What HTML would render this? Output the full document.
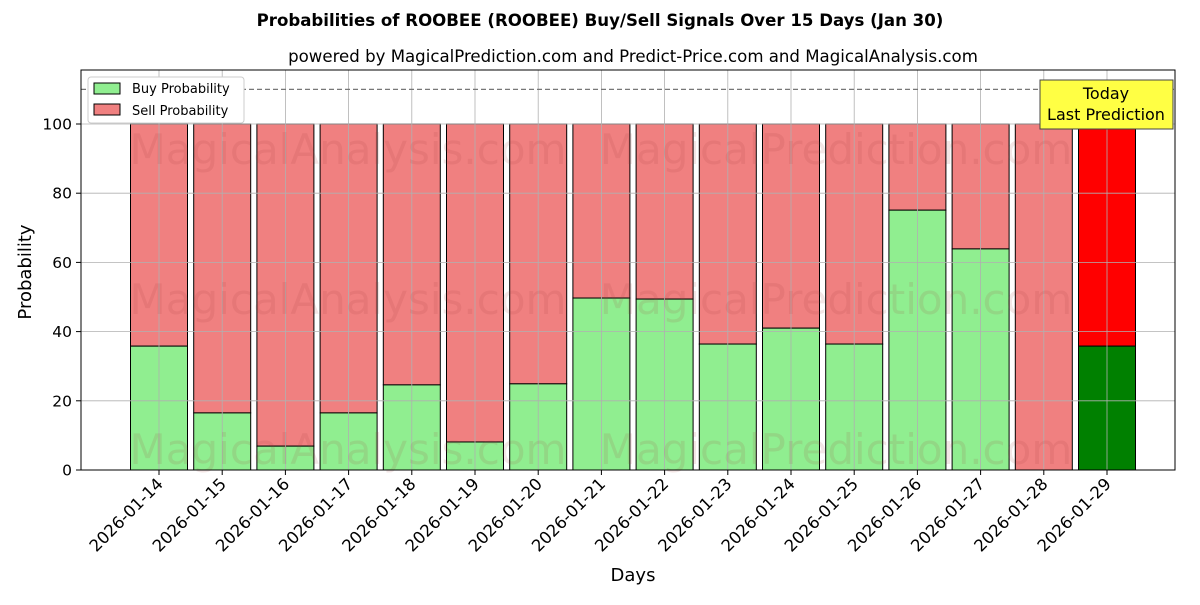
<!DOCTYPE html>
<html><head><meta charset="utf-8"><style>
body{margin:0;background:#fff;font-family:"Liberation Sans","DejaVu Sans",sans-serif;}
svg text{font-family:"DejaVu Sans","Liberation Sans",sans-serif;}
</style></head><body>
<svg id="chart" width="1200" height="600" xmlns="http://www.w3.org/2000/svg">
<text x="600" y="26" text-anchor="middle" font-size="16.6" font-weight="bold">Probabilities of ROOBEE (ROOBEE) Buy/Sell Signals Over 15 Days (Jan 30)</text>
<text x="633" y="62" text-anchor="middle" font-size="16.6">powered by MagicalPrediction.com and Predict-Price.com and MagicalAnalysis.com</text>
<g id="plot"></g>
</svg>
<script>
const days=["2026-01-14","2026-01-15","2026-01-16","2026-01-17","2026-01-18","2026-01-19","2026-01-20","2026-01-21","2026-01-22","2026-01-23","2026-01-24","2026-01-25","2026-01-26","2026-01-27","2026-01-28","2026-01-29"];
const buyValues=[35.8,16.5,6.9,16.5,24.6,8.1,24.9,49.7,49.4,36.4,41.0,36.4,75.1,63.9,0,35.8];
const yTicks=[0,20,40,60,80,100];
const L=81,R=1175,T=70,B=470;
const yS=v=>B-v*3.46;
const xS=i=>159+i*63.2;
const bw=57;
const NS="http://www.w3.org/2000/svg";
const g=document.getElementById('plot');
function mk(t,a,p){const e=document.createElementNS(NS,t);for(const k in a)e.setAttribute(k,a[k]);(p||g).appendChild(e);return e;}
days.forEach((d,i)=>{
const last=i===days.length-1;
const b=buyValues[i];
const s=mk('rect',{x:xS(i)-bw/2,y:yS(100),width:bw,height:yS(b)-yS(100),fill:last?'#ff0000':'#f08080',stroke:'#000','stroke-width':1});


const r=mk('rect',{x:xS(i)-bw/2,y:yS(b),width:bw,height:B-yS(b),fill:last?'#008000':'#90ee90',stroke:'#000','stroke-width':1});


mk('line',{x1:xS(i),x2:xS(i),y1:B,y2:B+5,stroke:'#000'});
mk('line',{x1:xS(i),x2:xS(i),y1:T,y2:B,stroke:'#b0b0b0','stroke-width':0.8});
const lb=mk('text',{x:xS(i)+5,y:B+15,'text-anchor':'end','font-size':16.5,transform:`rotate(-45 ${xS(i)+5} ${B+15})`});
lb.textContent=d;


});
yTicks.forEach(v=>{
mk('line',{x1:L,x2:R,y1:yS(v),y2:yS(v),stroke:'#b0b0b0','stroke-width':0.8});
mk('line',{x1:L-5,x2:L,y1:yS(v),y2:yS(v),stroke:'#000'});
const t=mk('text',{x:L-9,y:yS(v)+5.5,'text-anchor':'end','font-size':15.5});t.textContent=v;


});
[[150,"MagicalAnalysis.com",348],[300,"MagicalAnalysis.com",348],[450,"MagicalAnalysis.com",348],[150,"MagicalPrediction.com",836],[300,"MagicalPrediction.com",836],[450,"MagicalPrediction.com",836]].forEach(w=>{
const t=mk('text',{x:w[2],y:w[0]+14,'text-anchor':'middle','font-size':42,fill:'rgba(160,60,60,0.13)'});t.textContent=w[1];

});
mk('line',{x1:L,x2:R,y1:yS(110),y2:yS(110),stroke:'#777','stroke-dasharray':'5,3','stroke-width':1.2});
mk('rect',{x:L,y:T,width:R-L,height:B-T,fill:'none',stroke:'#000'});
const xt=mk('text',{x:633,y:581,'text-anchor':'middle','font-size':18});xt.textContent='Days';


const yt=mk('text',{x:31,y:272,'text-anchor':'middle','font-size':18,transform:'rotate(-90 31 272)'});yt.textContent='Probability';


const lg=mk('g',{});


mk('rect',{x:88,y:77,width:156,height:46,fill:'#fff',stroke:'#ccc',rx:3},lg);
mk('rect',{x:94,y:83,width:26,height:11,fill:'#90ee90',stroke:'#000'},lg);
mk('rect',{x:94,y:104,width:26,height:11,fill:'#f08080',stroke:'#000'},lg);
const l1=mk('text',{x:132,y:93,'font-size':13},lg);l1.textContent='Buy Probability';
const l2=mk('text',{x:132,y:115,'font-size':13},lg);l2.textContent='Sell Probability';
const an=mk('g',{});


mk('rect',{x:1040,y:80,width:133,height:49,fill:'#ffff44',stroke:'#444'},an);
const a1=mk('text',{x:1106,y:99,'text-anchor':'middle','font-size':16},an);a1.textContent='Today';
const a2=mk('text',{x:1106,y:120,'text-anchor':'middle','font-size':16},an);a2.textContent='Last Prediction';
</script>
</body></html>
